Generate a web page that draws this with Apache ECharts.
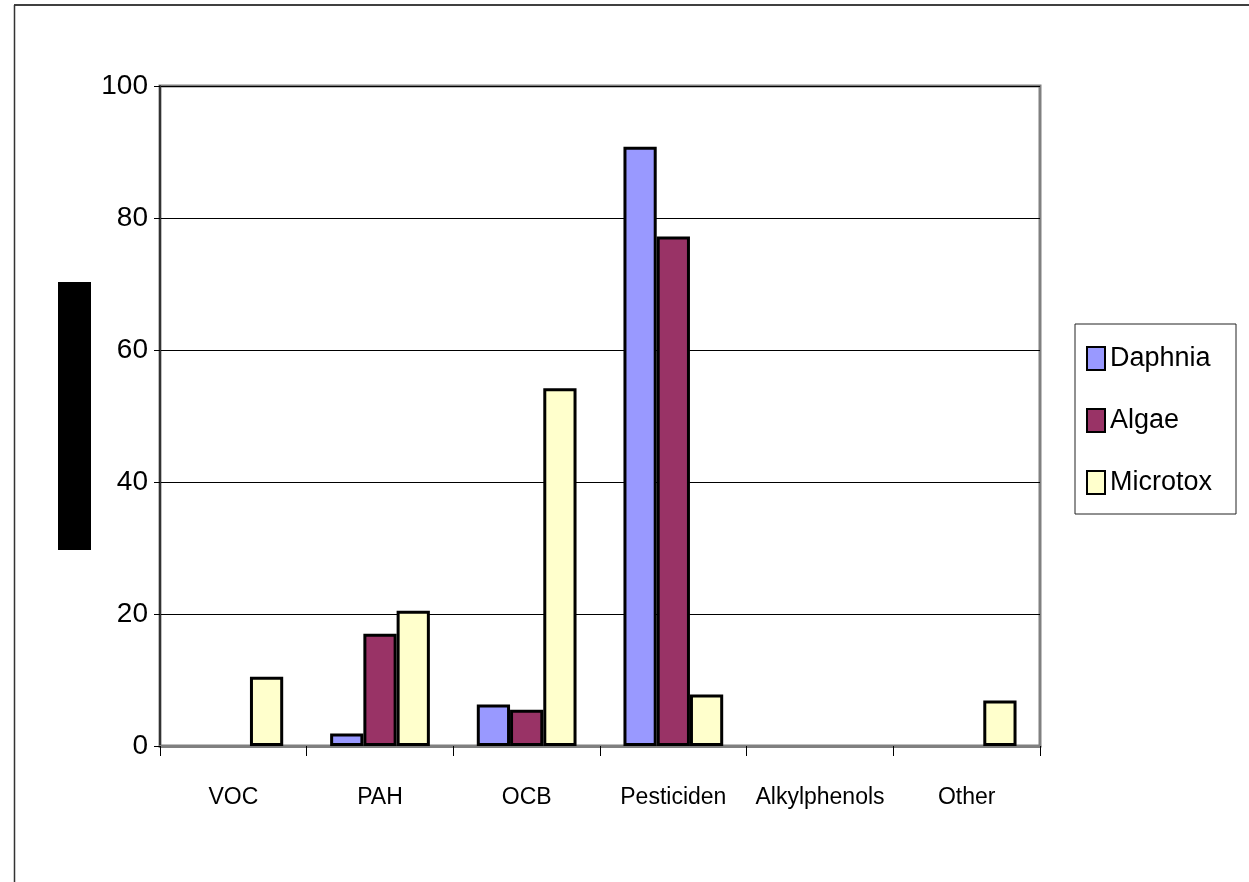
<!DOCTYPE html>
<html>
<head>
<meta charset="utf-8">
<script src="https://cdn.jsdelivr.net/npm/echarts@6/dist/echarts.min.js"></script>
<style>
  html, body { margin: 0; padding: 0; background: #fff; }
  #chart { width: 1249px; height: 882px; }
</style>
</head>
<body>
<div id="chart"></div>
<script>
// Toxicity contribution per compound group, three bioassays
const categories = ['VOC', 'PAH', 'OCB', 'Pesticiden', 'Alkylphenols', 'Other'];
const daphnia  = [0, 1.9, 6.3, 90.8, 0, 0];
const algae    = [0, 17.0, 5.5, 77.2, 0, 0];
const microtox = [10.5, 20.5, 54.2, 7.8, 0, 6.9];
const yTicks = [0, 20, 40, 60, 80, 100];

const FONT = "'Liberation Sans', Arial, sans-serif";

const chart = echarts.init(document.getElementById('chart'), null, { renderer: 'canvas' });

function barSeries(name, data, color) {
  return {
    name: name,
    type: 'bar',
    data: data.map(v => (v > 0 ? v : null)),
    barGap: '0%',
    barCategoryGap: '32%',
    itemStyle: { color: color, borderColor: '#000', borderWidth: 3 }
  };
}

chart.setOption({
  animation: false,
  backgroundColor: '#fff',
  grid: {
    left: 160, top: 86, width: 880, height: 660,
    show: true, borderColor: '#808080', borderWidth: 3, backgroundColor: 'transparent'
  },
  legend: {
    orient: 'vertical',
    left: 1075, top: 324,
    padding: [21, 24, 18, 11],
    itemGap: 35,
    itemWidth: 18,
    itemHeight: 23,
    icon: 'rect',
    borderColor: '#222', borderWidth: 1,
    textStyle: { fontFamily: FONT, fontSize: 27, color: '#000', lineHeight: 26 },
    data: ['Daphnia', 'Algae', 'Microtox']
  },
  xAxis: {
    type: 'category',
    data: categories,
    axisLine: { lineStyle: { color: '#808080', width: 3 } },
    axisTick: { show: true, interval: 0, length: 10, lineStyle: { color: '#000', width: 1 } },
    axisLabel: { interval: 0, fontFamily: FONT, fontSize: 23, color: '#000', margin: 40 },
    splitLine: { show: false }
  },
  yAxis: {
    type: 'value',
    min: yTicks[0], max: yTicks[yTicks.length - 1], interval: 20,
    axisLine: { show: true, lineStyle: { color: '#333', width: 2 } },
    axisTick: { show: true, length: 6, lineStyle: { color: '#000', width: 1 } },
    axisLabel: { fontFamily: FONT, fontSize: 28, color: '#000', margin: 12 },
    splitLine: { show: true, lineStyle: { color: '#000', width: 1 } }
  },
  series: [
    barSeries('Daphnia', daphnia, '#9999FF'),
    barSeries('Algae', algae, '#993366'),
    barSeries('Microtox', microtox, '#FFFFCC')
  ],
  graphic: [
    // page frame (top and left edges)
    { type: 'line', shape: { x1: 14, y1: 5, x2: 1249, y2: 5 }, style: { stroke: '#000', lineWidth: 1.5 } },
    { type: 'line', shape: { x1: 14.5, y1: 5, x2: 14.5, y2: 882 }, style: { stroke: '#333', lineWidth: 1.5 } },
    // axis title block
    { type: 'rect', shape: { x: 58, y: 282, width: 33, height: 268 }, style: { fill: '#000' } }
  ]
});
</script>
</body>
</html>
